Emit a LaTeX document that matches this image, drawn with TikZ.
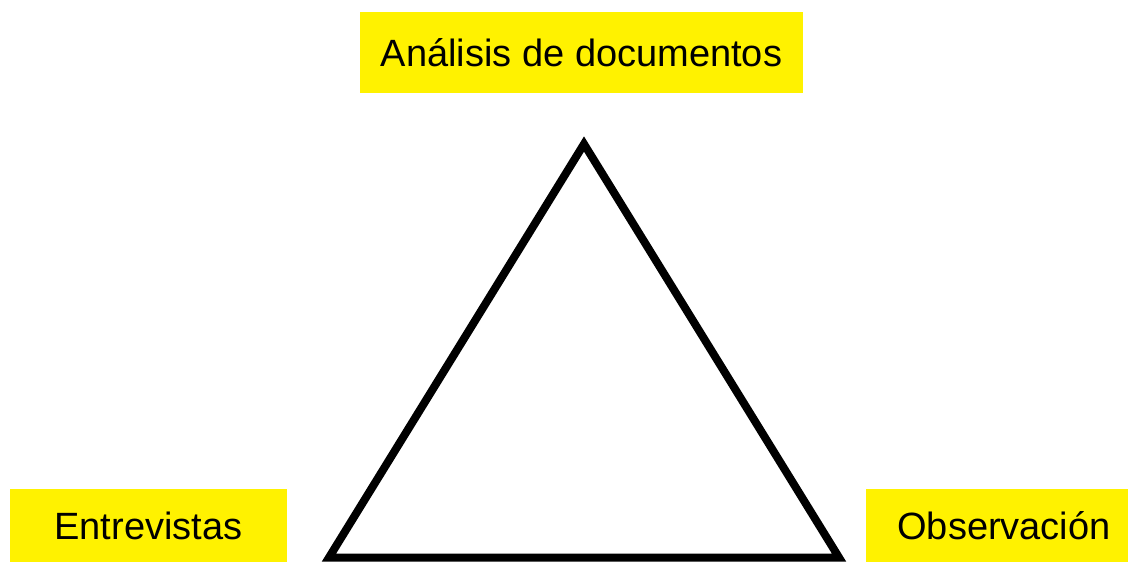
\documentclass[tikz,border=0pt]{standalone}
\usepackage{fontspec}
\setmainfont{Liberation Sans}
\usetikzlibrary{positioning}

\begin{document}
\begin{tikzpicture}[x=1pt,y=-1pt]
    \tikzstyle{method} = [fill=yellow, inner sep=0pt, font=\fontsize{38}{46}\selectfont]
    \tikzstyle{corner} = [inner sep=0pt, minimum size=0pt]

    \useasboundingbox (0,0) rectangle (1128,562);

    % Methods .........................
	\node[method, minimum width=443pt, minimum height=81pt] (docs) at (581.5,52.5) {Análisis de documentos};
	\node[method, minimum width=277pt, minimum height=73pt] (entr) at (148.5,525.5) {Entrevistas};
	\node[method, minimum width=276pt, minimum height=73pt] (obs)  at (1004,525.5) {Observación};

    % Triangle .........................
	\coordinate (top)   at (584,144);
	\coordinate (left)  at (329,557.5);
	\coordinate (right) at (839,557.5);
	 \draw[line width=8pt] (top) -- (left) -- (right) -- cycle;

\end{tikzpicture}
\end{document}
